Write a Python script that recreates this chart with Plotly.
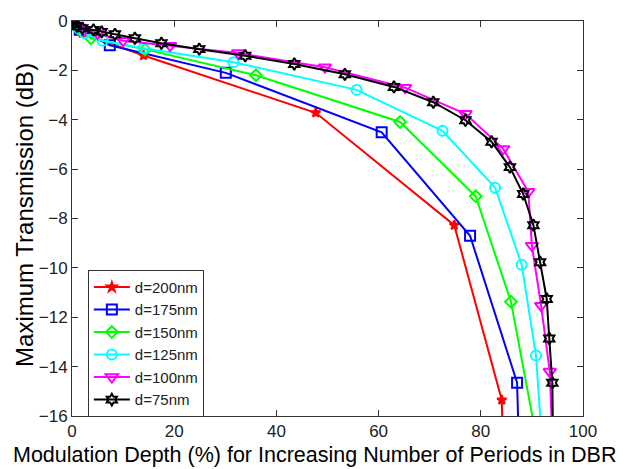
import plotly.graph_objects as go

names = ["d=200nm", "d=175nm", "d=150nm", "d=125nm", "d=100nm", "d=75nm"]

x200 = [0, 0.5, 2.0, 14.0, 47.7, 74.8, 84.1, 84.6]
y200 = [0, -0.12, -0.5, -1.4, -3.72, -8.27, -15.35, -19.0]

x175 = [0, 0.4, 1.5, 7.4, 30.1, 60.6, 77.9, 87.1, 87.7]
y175 = [0, -0.1, -0.35, -0.98, -2.1, -4.51, -8.7, -14.65, -19.0]

x150 = [0, 0.4, 1.2, 3.7, 14.3, 36.0, 64.2, 79.0, 85.9, 91.9]
y150 = [0, -0.1, -0.3, -0.7, -1.15, -2.2, -4.09, -7.1, -11.37, -18.0]

x125 = [0, 0.3, 1.0, 2.5, 6.0, 14.0, 31.6, 55.7, 72.5, 82.8, 88.0, 90.8, 92.3]
y125 = [0, -0.1, -0.25, -0.5, -0.8, -1.1, -1.67, -2.79, -4.45, -6.75, -9.87, -13.55, -18.0]

x100 = [0, 0.3, 1.0, 2.5, 5.0, 10.0, 19.2, 32.5, 49.5, 65.2, 77.0, 84.4, 89.3, 90.0, 91.8, 93.5, 94.2]
y100 = [0, -0.08, -0.2, -0.35, -0.5, -0.8, -1.0, -1.3, -1.87, -2.7, -3.76, -5.18, -6.92, -9.1, -11.53, -14.2, -18.0]

x75 = [0, 0.3, 1.0, 2.0, 4.2, 5.8, 8.4, 12.3, 17.5, 24.9, 33.9, 43.5, 53.4, 63.0, 70.7, 77.0, 82.1, 85.7, 88.3, 90.3, 91.6, 92.9, 93.4, 94.0, 94.2]
y75 = [0, -0.12, -0.2, -0.29, -0.36, -0.44, -0.54, -0.7, -0.9, -1.14, -1.41, -1.74, -2.16, -2.67, -3.29, -4.02, -4.89, -5.92, -7.01, -8.27, -9.77, -11.26, -12.86, -14.65, -18.0]

xs = [x200, x175, x150, x125, x100, x75]
ys = [y200, y175, y150, y125, y100, y75]
colors = ["#ff0000", "#0000ff", "#00ff00", "#00ffff", "#ff00ff", "#000000"]
symbols = ["star", "square-open", "diamond-open", "circle-open", "triangle-down-open", "hexagram-open"]
sizes = [7, 10, 9, 10, 11, 9]

x_title = "Modulation Depth (%) for Increasing Number of Periods in DBR"
y_title = "Maximum Transmission (dB)"

fig = go.Figure()
for n, x, y, c, s, sz in zip(names, xs, ys, colors, symbols, sizes):
    fig.add_trace(go.Scatter(
        x=x, y=y, name=n, mode="lines+markers",
        line=dict(color=c, width=2),
        marker=dict(symbol=s, size=sz, color=c, line=dict(color=c, width=2)),
    ))

axis_common = dict(
    showline=True, linecolor="#333333", linewidth=1, mirror="ticks",
    ticks="inside", ticklen=6, tickcolor="#333333", showgrid=False, zeroline=False,
    tickfont=dict(family="Arial, Liberation Sans", size=17, color="#222222"),
)

fig.update_layout(
    width=641, height=469,
    margin=dict(l=72, r=58, t=14, b=53),
    paper_bgcolor="white", plot_bgcolor="white",
    font=dict(family="Arial, Liberation Sans", color="#000000"),
    xaxis=dict(range=[0, 100], tickvals=[0, 20, 40, 60, 80, 100], **axis_common),
    yaxis=dict(range=[-16, 0], tickvals=[0, -2, -4, -6, -8, -10, -12, -14, -16], **axis_common),
    legend=dict(x=0.031, y=0.37, xanchor="left", yanchor="top",
                bordercolor="#333333", borderwidth=1, bgcolor="white",
                font=dict(family="Arial, Liberation Sans", size=15, color="#222222"),
                tracegroupgap=0, itemwidth=36),
    showlegend=True,
    annotations=[
        dict(text=x_title, xref="paper", yref="paper", x=0.4746, y=-0.0995,
             xanchor="center", yanchor="middle", showarrow=False,
             font=dict(size=21.5, color="#000000")),
        dict(text=y_title, xref="paper", yref="paper", x=-0.092, y=0.509,
             xanchor="center", yanchor="middle", showarrow=False, textangle=-90,
             font=dict(size=24, color="#000000")),
    ],
)

fig.write_html("out.html", config={"displayModeBar": False},
               post_script="document.body.style.margin='0px';")
